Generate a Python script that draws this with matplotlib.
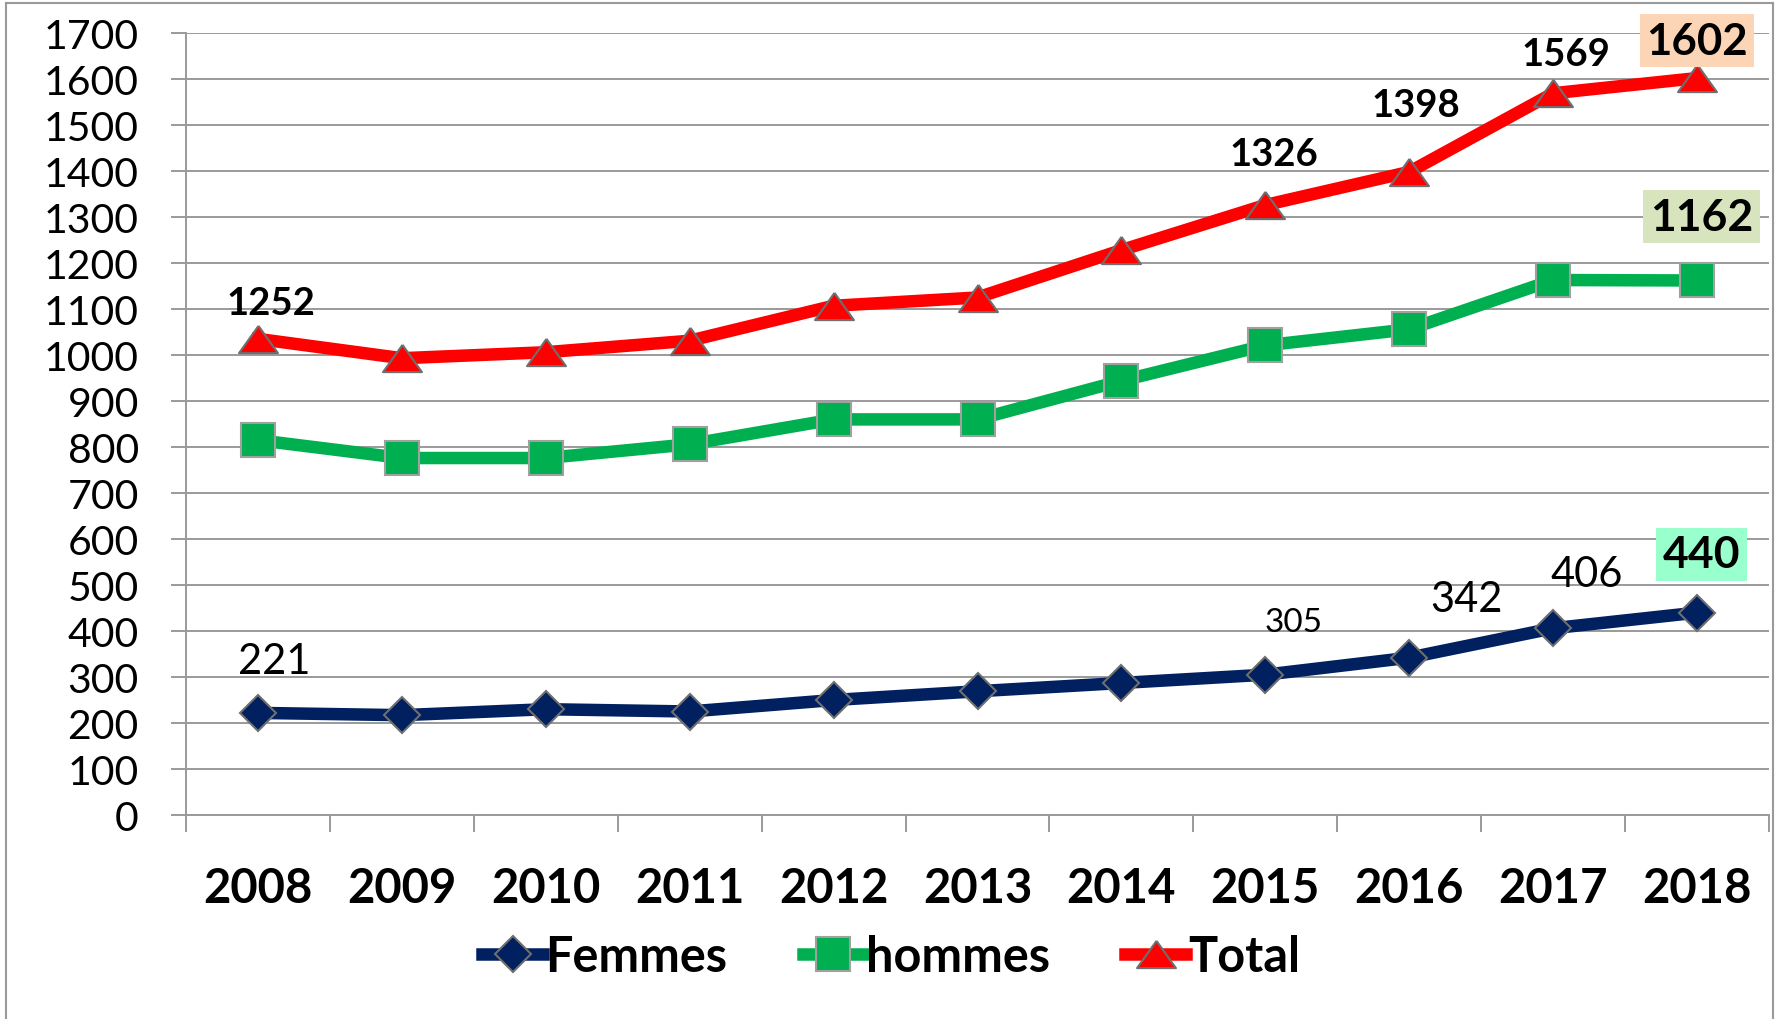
import numpy as np
import matplotlib.pyplot as plt
from matplotlib.lines import Line2D

plt.rcParams['font.family'] = ['Lato', 'DejaVu Sans']

# donnees
annees = ['2008', '2009', '2010', '2011', '2012', '2013', '2014', '2015', '2016', '2017', '2018']
femmes = [222, 217, 230, 225, 250, 269, 287, 305, 342, 406, 440]
hommes = [815, 776, 776, 806, 860, 860, 944, 1021, 1056, 1163, 1162]
total = [1035, 993, 1006, 1031, 1107, 1125, 1228, 1326, 1398, 1569, 1602]

# etiquettes affichees (index de l'annee, texte)
etiq_femmes = [(0, '221'), (7, '305'), (8, '342'), (9, '406'), (10, '440')]
etiq_hommes = [(10, '1162')]
etiq_total = [(0, '1252'), (7, '1326'), (8, '1398'), (9, '1569'), (10, '1602')]

GRIS = '#9a9a9a'
BORD = '#6f6f6f'

fig = plt.figure(figsize=(17.83, 10.20), dpi=100)
ax = fig.add_axes([186 / 1783, 1 - 816 / 1020, (1769 - 186) / 1783, (816 - 34) / 1020])

x = np.arange(len(annees))

# marqueur triangle plus large que haut (style excel)
tri = [(0, 0.7), (-1, -0.7), (1, -0.7), (0, 0.7)]

ax.plot(x, femmes, color='#002060', lw=9, marker='D', ms=18,
        mfc='#002060', mec=BORD, mew=1.5, label='Femmes', zorder=3)
ax.plot(x, hommes, color='#00B050', lw=9, marker='s', ms=25,
        mfc='#00B050', mec='#a0a0a0', mew=1.5, label='hommes', zorder=3)
ax.plot(x, total, color='#FF0000', lw=9, marker=tri, ms=28,
        mfc='#FF0000', mec=BORD, mew=1.5, label='Total', zorder=3)

ax.set_xlim(-0.5, len(annees) - 0.5)
ax.set_ylim(0, 1700)
ax.set_yticks(np.arange(0, 1701, 100))
ax.set_xticks(x)
ax.set_xticklabels(annees, fontsize=34, fontweight='bold')
ax.set_xticks(np.arange(-0.5, len(annees), 1), minor=True)
ax.tick_params(axis='x', which='major', length=0, pad=37)
ax.tick_params(axis='x', which='minor', length=12, width=1.4, color=GRIS, direction='out')
ax.tick_params(axis='y', length=11, width=1.4, color=GRIS, direction='out', labelsize=29.5, pad=23)

ax.grid(axis='y', color=GRIS, lw=1.4)
ax.set_axisbelow(True)
for s in ['top', 'right']:
    ax.spines[s].set_visible(False)
for s in ['left', 'bottom']:
    ax.spines[s].set_color(GRIS)
    ax.spines[s].set_linewidth(1.4)

# etiquettes de donnees
decal_femmes = {0: (12, 37), 7: (20, 38), 8: (41, 42), 9: (24, 39), 10: (3, 42)}
taille_femmes = {0: 30, 7: 24, 8: 30, 9: 30, 10: 32}
for i, t in etiq_femmes:
    bbox = None
    poids = 'normal'
    if i == 10:
        bbox = dict(boxstyle='square,pad=0.15', fc='#99FFCC', ec='none')
        poids = 'bold'
    ax.annotate(t, (x[i], femmes[i]), xytext=decal_femmes[i], textcoords='offset points',
                ha='center', va='center', fontsize=taille_femmes[i], fontweight=poids, bbox=bbox)

for i, t in etiq_hommes:
    ax.annotate(t, (x[i], hommes[i]), xytext=(3, 46), textcoords='offset points',
                ha='center', va='center', fontsize=32, fontweight='bold',
                bbox=dict(boxstyle='square,pad=0.15', fc='#D7E4BD', ec='none'))

decal_total = {0: (9, 26), 7: (6, 37), 8: (5, 48), 9: (9, 28), 10: (0, 27)}
for i, t in etiq_total:
    bbox = None
    taille = 27.5
    if i == 10:
        bbox = dict(boxstyle='square,pad=0.15', fc='#FBD5B5', ec='none')
        taille = 31.5
    ax.annotate(t, (x[i], total[i]), xytext=decal_total[i], textcoords='offset points',
                ha='center', va='center', fontsize=taille, fontweight='bold', bbox=bbox)

leg = fig.legend(loc='center', bbox_to_anchor=(0.5, 1 - 958 / 1020), ncol=3, frameon=False,
                 handlelength=1.25, handletextpad=0.05, columnspacing=1.55, markerscale=1.0,
                 prop={'size': 35, 'weight': 'bold'})

# cadre exterieur du graphique
W, H = 1783, 1020
fig.add_artist(Line2D([6 / W, 6 / W], [0, 1 - 4 / H], color=GRIS, lw=1.5))
fig.add_artist(Line2D([6 / W, 1773 / W], [1 - 4 / H, 1 - 4 / H], color=GRIS, lw=1.5))
fig.add_artist(Line2D([1773 / W, 1773 / W], [0, 1 - 4 / H], color=GRIS, lw=1.5))

fig.savefig('out.png', dpi=100)
